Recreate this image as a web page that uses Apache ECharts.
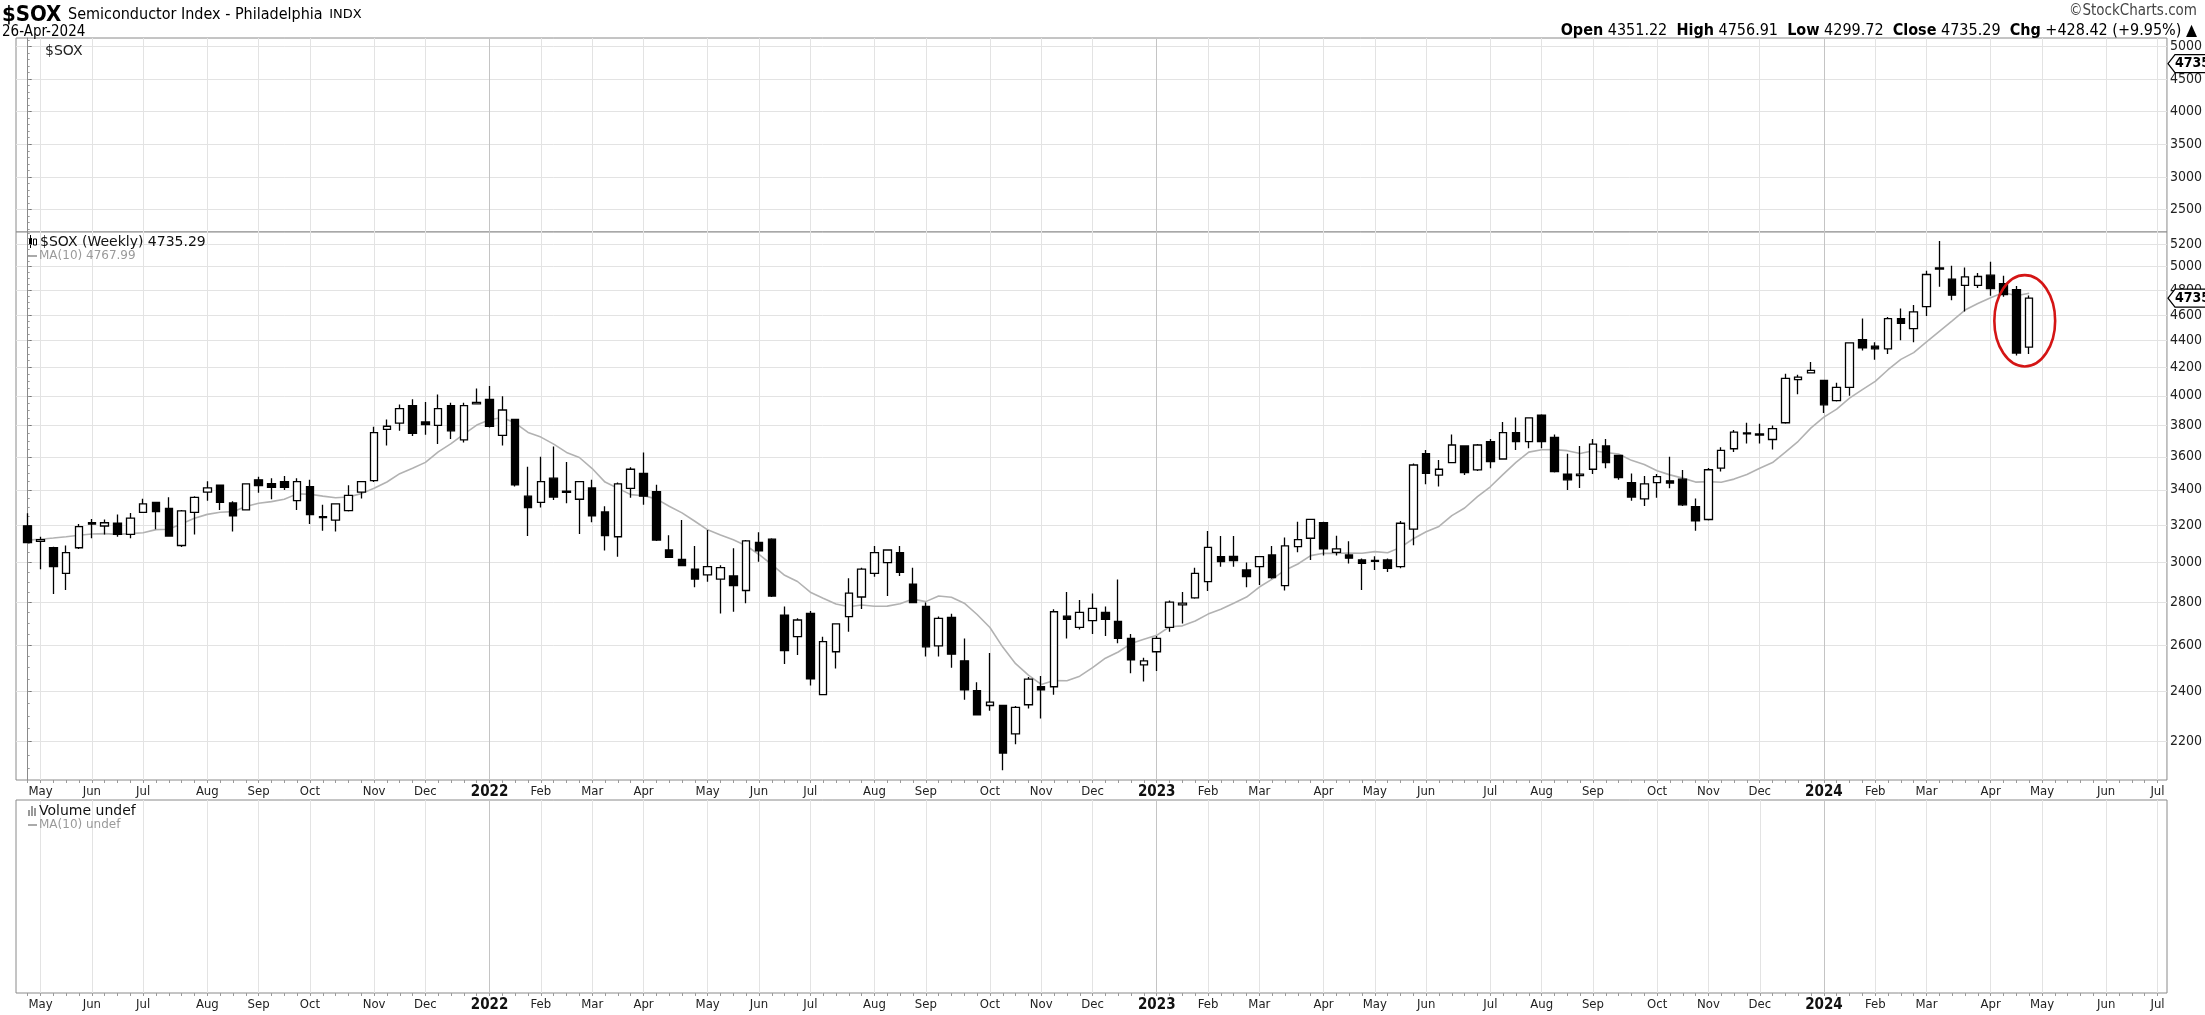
<!DOCTYPE html>
<html><head><meta charset="utf-8">
<script src="https://cdn.jsdelivr.net/npm/echarts@6/dist/echarts.min.js"></script>
<style>html,body{margin:0;padding:0;background:#fff;overflow:hidden}#c{width:2205px;height:1015px}</style>
</head><body><div id="c"></div>
<script>
// ---------- DATA ----------
const weeks = [
'2021-04-30','2021-05-07','2021-05-14','2021-05-21','2021-05-28','2021-06-04','2021-06-11','2021-06-18','2021-06-25','2021-07-02',
'2021-07-09','2021-07-16','2021-07-23','2021-07-30','2021-08-06','2021-08-13','2021-08-20','2021-08-27','2021-09-03','2021-09-10',
'2021-09-17','2021-09-24','2021-10-01','2021-10-08','2021-10-15','2021-10-22','2021-10-29','2021-11-05','2021-11-12','2021-11-19',
'2021-11-26','2021-12-03','2021-12-10','2021-12-17','2021-12-24','2021-12-31','2022-01-07','2022-01-14','2022-01-21','2022-01-28',
'2022-02-04','2022-02-11','2022-02-18','2022-02-25','2022-03-04','2022-03-11','2022-03-18','2022-03-25','2022-04-01','2022-04-08',
'2022-04-15','2022-04-22','2022-04-29','2022-05-06','2022-05-13','2022-05-20','2022-05-27','2022-06-03','2022-06-10','2022-06-17',
'2022-06-24','2022-07-01','2022-07-08','2022-07-15','2022-07-22','2022-07-29','2022-08-05','2022-08-12','2022-08-19','2022-08-26',
'2022-09-02','2022-09-09','2022-09-16','2022-09-23','2022-09-30','2022-10-07','2022-10-14','2022-10-21','2022-10-28','2022-11-04',
'2022-11-11','2022-11-18','2022-11-25','2022-12-02','2022-12-09','2022-12-16','2022-12-23','2022-12-30','2023-01-06','2023-01-13',
'2023-01-20','2023-01-27','2023-02-03','2023-02-10','2023-02-17','2023-02-24','2023-03-03','2023-03-10','2023-03-17','2023-03-24',
'2023-03-31','2023-04-07','2023-04-14','2023-04-21','2023-04-28','2023-05-05','2023-05-12','2023-05-19','2023-05-26','2023-06-02',
'2023-06-09','2023-06-16','2023-06-23','2023-06-30','2023-07-07','2023-07-14','2023-07-21','2023-07-28','2023-08-04','2023-08-11',
'2023-08-18','2023-08-25','2023-09-01','2023-09-08','2023-09-15','2023-09-22','2023-09-29','2023-10-06','2023-10-13','2023-10-20',
'2023-10-27','2023-11-03','2023-11-10','2023-11-17','2023-11-24','2023-12-01','2023-12-08','2023-12-15','2023-12-22','2023-12-29',
'2024-01-05','2024-01-12','2024-01-19','2024-01-26','2024-02-02','2024-02-09','2024-02-16','2024-02-23','2024-03-01','2024-03-08',
'2024-03-15','2024-03-22','2024-03-29','2024-04-05','2024-04-12','2024-04-19','2024-04-26'];

const opens = [
3195,3110,3076,2943,3076,3205,3194,3209,3148,3270,
3327,3293,3088,3270,3386,3427,3324,3284,3459,3437,
3449,3337,3419,3240,3227,3280,3386,3455,3774,3816,
3932,3823,3800,3932,3706,3944,3975,3736,3840,3363,
3327,3469,3392,3345,3411,3272,3135,3409,3498,3390,
3064,3015,2965,2935,2914,2930,2857,3105,3122,2738,
2638,2746,2386,2570,2731,2825,2943,2998,3050,2889,
2779,2596,2727,2530,2403,2342,2342,2230,2345,2419,
2419,2733,2681,2712,2751,2708,2630,2512,2570,2681,
2787,2821,2901,3029,3030,2960,2977,3038,2881,3082,
3127,3212,3052,3038,3012,3005,3012,2977,3177,3619,
3488,3564,3668,3519,3695,3586,3753,3695,3869,3723,
3494,3484,3523,3668,3609,3443,3347,3443,3453,3463,
3303,3230,3530,3650,3745,3745,3709,3818,4113,4161,
4108,3967,4058,4408,4358,4338,4571,4492,4667,4980,
4893,4841,4841,4927,4855,4806,4351.22];

const highs = [
3265,3135,3081,3088,3205,3233,3230,3258,3267,3348,
3330,3356,3284,3363,3451,3430,3333,3439,3478,3469,
3482,3469,3459,3314,3322,3427,3449,3791,3840,3941,
3977,3958,4009,3953,3953,4051,4068,3996,3842,3539,
3600,3664,3567,3452,3459,3305,3443,3535,3626,3430,
3143,3227,3086,3172,2985,3073,3117,3160,3127,2779,
2723,2758,2638,2700,2918,2972,3086,3066,3086,2972,
2798,2731,2744,2630,2438,2564,2345,2340,2460,2464,
2766,2850,2811,2842,2779,2912,2650,2544,2641,2808,
2850,2972,3166,3139,3139,2999,3030,3086,3131,3218,
3231,3218,3141,3111,3020,3031,3020,3222,3559,3643,
3580,3741,3670,3680,3712,3823,3852,3855,3875,3741,
3618,3668,3712,3712,3611,3498,3482,3494,3600,3519,
3350,3530,3660,3770,3818,3811,3800,4156,4149,4240,
4112,4092,4388,4571,4388,4584,4651,4680,4965,5228,
5008,4994,4945,5042,4922,4835,4756.91];

const lows = [
3100,2964,2840,2860,3070,3127,3148,3135,3127,3268,
3176,3135,3080,3148,3337,3284,3163,3280,3383,3345,
3399,3284,3205,3168,3163,3275,3350,3446,3670,3765,
3731,3739,3680,3712,3689,3940,3787,3670,3420,3139,
3297,3341,3322,3150,3214,3061,3029,3354,3313,3112,
3024,2980,2873,2901,2746,2754,2795,3003,2825,2516,
2556,2424,2386,2497,2660,2767,2926,2830,2930,2795,
2549,2549,2500,2365,2302,2321,2094,2190,2330,2290,
2386,2630,2671,2650,2641,2608,2476,2441,2486,2660,
2699,2816,2855,2977,2977,2873,2884,2915,2857,3052,
3012,3035,3035,2994,2860,2960,2950,2969,3090,3433,
3419,3562,3488,3513,3529,3586,3643,3653,3653,3503,
3399,3411,3494,3529,3459,3337,3306,3354,3409,3306,
3168,3225,3510,3630,3684,3684,3646,3811,4011,4158,
3882,3960,4000,4325,4258,4300,4403,4388,4592,4829,
4718,4627,4820,4755,4747,4289,4299.72];

const closes = [
3103,3120,2977,3050,3190,3212,3212,3148,3238,3318,
3275,3139,3279,3356,3411,3327,3251,3435,3425,3415,
3415,3449,3258,3246,3318,3367,3449,3753,3795,3912,
3749,3806,3912,3765,3932,3955,3795,3903,3430,3297,
3449,3358,3385,3449,3251,3141,3435,3523,3363,3117,
3026,2982,2914,2977,2972,2881,3113,3059,2830,2575,
2715,2452,2615,2697,2844,2965,3050,3064,2948,2798,
2592,2723,2559,2406,2304,2356,2157,2334,2451,2406,
2754,2718,2751,2770,2718,2630,2534,2530,2630,2800,
2795,2943,3078,3003,3008,2926,3029,2922,3086,3120,
3231,3070,3070,3021,2994,3010,2969,3209,3549,3498,
3523,3674,3502,3674,3570,3753,3695,3850,3695,3509,
3459,3494,3680,3564,3473,3358,3435,3478,3440,3313,
3223,3520,3640,3756,3752,3738,3779,4122,4131,4179,
3938,4058,4383,4345,4338,4571,4534,4624,4933,4990,
4760,4913,4916,4815,4765,4306.87,4735.29];

// MA(10) values for the first weeks (earlier closes not shown)
const maLead = [3117,3122,3128,3135,3143,3150,3152,3148,3152];

const monthTickIdx = [1,5,9,14,18,22,27,31,36,40,44,48,53,57,61,66,70,75,79,83,88,92,96,101,105,109,114,118,122,127,131,135,140,144,148,153,157,162,166];
const monthTickLabels = ['May','Jun','Jul','Aug','Sep','Oct','Nov','Dec','2022','Feb','Mar','Apr','May','Jun','Jul','Aug','Sep','Oct','Nov','Dec','2023','Feb','Mar','Apr','May','Jun','Jul','Aug','Sep','Oct','Nov','Dec','2024','Feb','Mar','Apr','May','Jun','Jul'];
const yearTickIdx = [36,88,140];
const mainTicks = [2200,2400,2600,2800,3000,3200,3400,3600,3800,4000,4200,4400,4600,4800,5000,5200];
const topTicks = [2500,3000,3500,4000,4500,5000];

// ---------- DERIVED ----------
const ma10 = closes.map((c, i) => i < 9 ? maLead[i] : closes.slice(i - 9, i + 1).reduce((a, b) => a + b, 0) / 10);
const candleData = weeks.map((d, i) => [i, opens[i], closes[i], lows[i], highs[i]]);
const maData = weeks.map((d, i) => [i, ma10[i]]);
const weekTickIdx = []; for (let i = 0; i <= 167; i++) weekTickIdx.push(i);
const minorMain = []; for (let v = 2100; v <= 5300; v += 50) minorMain.push(v);
const minorTop = []; for (let v = 2200; v <= 5100; v += 100) minorTop.push(v);

// ---------- STYLE / LAYOUT ----------
const NARROW = '"Liberation Sans Narrow","Arial Narrow","DejaVu Sans Condensed",sans-serif';
const DV = '"DejaVu Sans",Verdana,sans-serif';
const XMIN = -0.91, XMAX = 166.74;
const GL = 16, GR = 38;
const gridCol = '#e3e3e3', yearCol = '#c4c4c4', borderCol = '#8a8a8a';
const grids = [
  {left: GL, right: GR, top: 38, height: 194},
  {left: GL, right: GR, top: 232, height: 548},
  {left: GL, right: GR, top: 800, height: 193}
].map(g => Object.assign(g, {show: true, borderColor: borderCol, borderWidth: 1, backgroundColor: '#fff'}));

function xBase(g) {
  return {type: 'value', gridIndex: g, min: XMIN, max: XMAX, axisLine: {show: false},
    axisTick: {show: false}, axisLabel: {show: false}, splitLine: {show: false}};
}
const xAxes = [];
[0, 1, 2].forEach(g => { const a = xBase(g); a.axisTick = {show: false, customValues: monthTickIdx}; a.splitLine = {show: true, lineStyle: {color: gridCol, width: 1}}; xAxes.push(a); });
[0, 1, 2].forEach(g => { const a = xBase(g); a.axisTick = {show: false, customValues: yearTickIdx}; a.splitLine = {show: true, lineStyle: {color: yearCol, width: 1}}; xAxes.push(a); });
[1, 2].forEach(g => {
  const a = xBase(g);
  a.position = 'bottom';
  a.axisTick = {show: true, customValues: weekTickIdx, length: 3, lineStyle: {color: '#9a9a9a', width: 1}};
  a.axisLabel = {show: true, customValues: monthTickIdx, margin: 5, fontFamily: NARROW, fontSize: 13, color: '#222',
    formatter: v => { const k = monthTickIdx.indexOf(Math.round(v)); if (k < 0) return ''; const s = monthTickLabels[k];
      return yearTickIdx.indexOf(Math.round(v)) >= 0 ? '{y|' + s + '}' : s; },
    rich: {y: {fontFamily: NARROW, fontWeight: 'bold', fontSize: 15, color: '#111'}}};
  xAxes.push(a);
});

function yAxisMain(type, g, min, max, ticks) {
  const a = {type: type, gridIndex: g, min: min, max: max, position: 'right',
    axisLine: {show: true, lineStyle: {color: borderCol, width: 1}},
    axisTick: {show: true, customValues: ticks, length: 4, lineStyle: {color: '#777'}},
    axisLabel: {show: true, customValues: ticks, margin: 3, fontFamily: NARROW, fontSize: 14, color: '#222',
      formatter: v => String(Math.round(v))},
    splitLine: {show: true, lineStyle: {color: gridCol, width: 1}}};
  if (type === 'log') a.logBase = 10;
  return a;
}
function yMinor(type, g, min, max, ticks) {
  const a = {type: type, gridIndex: g, min: min, max: max, position: 'right',
    axisLine: {show: false}, axisLabel: {show: false}, splitLine: {show: false},
    axisTick: {show: true, customValues: ticks, length: 2, lineStyle: {color: '#9a9a9a'}}};
  if (type === 'log') a.logBase = 10;
  return a;
}
const TOPMIN = 2155, TOPMAX = 5129, MAINMIN = 2059, MAINMAX = 5309;
const yAxes = [
  yAxisMain('value', 0, TOPMIN, TOPMAX, topTicks),
  yAxisMain('log', 1, MAINMIN, MAINMAX, mainTicks),
  {type: 'value', gridIndex: 2, min: 0, max: 1, show: false, splitLine: {show: false}},
  yMinor('value', 0, TOPMIN, TOPMAX, minorTop),
  yMinor('log', 1, MAINMIN, MAINMAX, minorMain)
];

const chart = echarts.init(document.getElementById('c'), null, {renderer: 'canvas', width: 2205, height: 1015});
chart.setOption({
  animation: false,
  backgroundColor: '#fff',
  grid: grids,
  xAxis: xAxes,
  yAxis: yAxes,
  series: [
    {type: 'line', name: 'MA(10)', xAxisIndex: 1, yAxisIndex: 1, data: maData, showSymbol: false, smooth: false,
      lineStyle: {color: '#b2b2b2', width: 1.6}, z: 2},
    {type: 'candlestick', name: '$SOX', xAxisIndex: 1, yAxisIndex: 1, data: candleData,
      encode: {x: 0, y: [1, 2, 3, 4]}, barWidth: 8,
      itemStyle: {color: '#ffffff', color0: '#000000', borderColor: '#000000', borderColor0: '#000000', borderWidth: 1.3}, z: 3}
  ]
});

// ---------- ANNOTATIONS / TEXT ----------
const last = weeks.length - 1;
const yMainLast = chart.convertToPixel({yAxisIndex: 1}, closes[last]);
const yTopLast = chart.convertToPixel({yAxisIndex: 0}, closes[last]);
const xA = chart.convertToPixel({xAxisIndex: 1}, last - 1);
const xB = chart.convertToPixel({xAxisIndex: 1}, last);
const yLo = chart.convertToPixel({yAxisIndex: 1}, Math.min(lows[last - 1], lows[last]));
const yHi = chart.convertToPixel({yAxisIndex: 1}, Math.max(highs[last - 1], highs[last]));
const axisX = 2205 - GR;
function priceTag(y) {
  return [
    {type: 'polygon', shape: {points: [[axisX + 1, y], [axisX + 8, y - 9], [2210, y - 9], [2210, y + 9], [axisX + 8, y + 9]]},
      style: {fill: '#fff', stroke: '#000', lineWidth: 1.2}, z: 100},
    {type: 'text', x: axisX + 8, y: y, style: {text: closes[last].toFixed(2), font: 'bold 14px ' + NARROW, fill: '#000', verticalAlign: 'middle'}, z: 101}
  ];
}
const g = [
  {type: 'text', x: 2, y: 15, style: {text: '{a|$SOX}  {b|Semiconductor Index - Philadelphia}  {c|INDX}', verticalAlign: 'middle',
    rich: {a: {font: 'bold 22px ' + NARROW, fill: '#000'}, b: {font: '16px ' + NARROW, fill: '#000'}, c: {font: '13px ' + DV, fill: '#000'}}}},
  {type: 'text', x: 2, y: 32, style: {text: '26-Apr-2024', font: '15px ' + NARROW, fill: '#000', verticalAlign: 'middle'}},
  {type: 'text', x: 2197, y: 11, style: {text: '\u00A9StockCharts.com', font: '15px ' + NARROW, fill: '#444', align: 'right', verticalAlign: 'middle'}},
  {type: 'text', x: 2197, y: 31, style: {
    text: '{b|Open} 4351.22  {b|High} 4756.91  {b|Low} 4299.72  {b|Close} 4735.29  {b|Chg} +428.42 (+9.95%) \u25B2',
    font: '16px ' + NARROW, fill: '#000', align: 'right', verticalAlign: 'middle',
    rich: {b: {font: 'bold 16px ' + NARROW, fill: '#000'}}}},
  {type: 'text', x: 45, y: 51, style: {text: '$SOX', font: '14px ' + DV, fill: '#222', verticalAlign: 'middle'}},
  // main legend
  {type: 'rect', shape: {x: 29, y: 238, width: 3, height: 7}, style: {fill: '#000'}},
  {type: 'line', shape: {x1: 30.5, y1: 235, x2: 30.5, y2: 248}, style: {stroke: '#000', lineWidth: 1}},
  {type: 'rect', shape: {x: 33.5, y: 239, width: 3, height: 6}, style: {fill: '#fff', stroke: '#000', lineWidth: 1}},
  {type: 'text', x: 40, y: 242, style: {text: '$SOX (Weekly) 4735.29', font: '14px ' + DV, fill: '#111', verticalAlign: 'middle'}},
  {type: 'line', shape: {x1: 28, y1: 256, x2: 37, y2: 256}, style: {stroke: '#aaa', lineWidth: 2}},
  {type: 'text', x: 39, y: 256, style: {text: 'MA(10) 4767.99', font: '12px ' + DV, fill: '#9a9a9a', verticalAlign: 'middle'}},
  // volume legend
  {type: 'rect', shape: {x: 28, y: 810, width: 2, height: 6}, style: {fill: '#999'}},
  {type: 'rect', shape: {x: 31, y: 806, width: 2, height: 10}, style: {fill: '#999'}},
  {type: 'rect', shape: {x: 34, y: 808, width: 2, height: 8}, style: {fill: '#999'}},
  {type: 'text', x: 39, y: 811, style: {text: 'Volume undef', font: '14px ' + DV, fill: '#111', verticalAlign: 'middle'}},
  {type: 'line', shape: {x1: 28, y1: 825, x2: 37, y2: 825}, style: {stroke: '#aaa', lineWidth: 2}},
  {type: 'text', x: 39, y: 825, style: {text: 'MA(10) undef', font: '12px ' + DV, fill: '#9a9a9a', verticalAlign: 'middle'}},
  // red ellipse annotation
  {type: 'ellipse', shape: {cx: (xA + xB) / 2 + 2, cy: (yLo + yHi) / 2, rx: (xB - xA) / 2 + 24, ry: (yLo - yHi) / 2 + 11},
    style: {fill: 'none', stroke: '#d41515', lineWidth: 2.6}, z: 50}
].concat(priceTag(yMainLast), priceTag(yTopLast));
chart.setOption({graphic: {elements: g}});
</script>
</body></html>
